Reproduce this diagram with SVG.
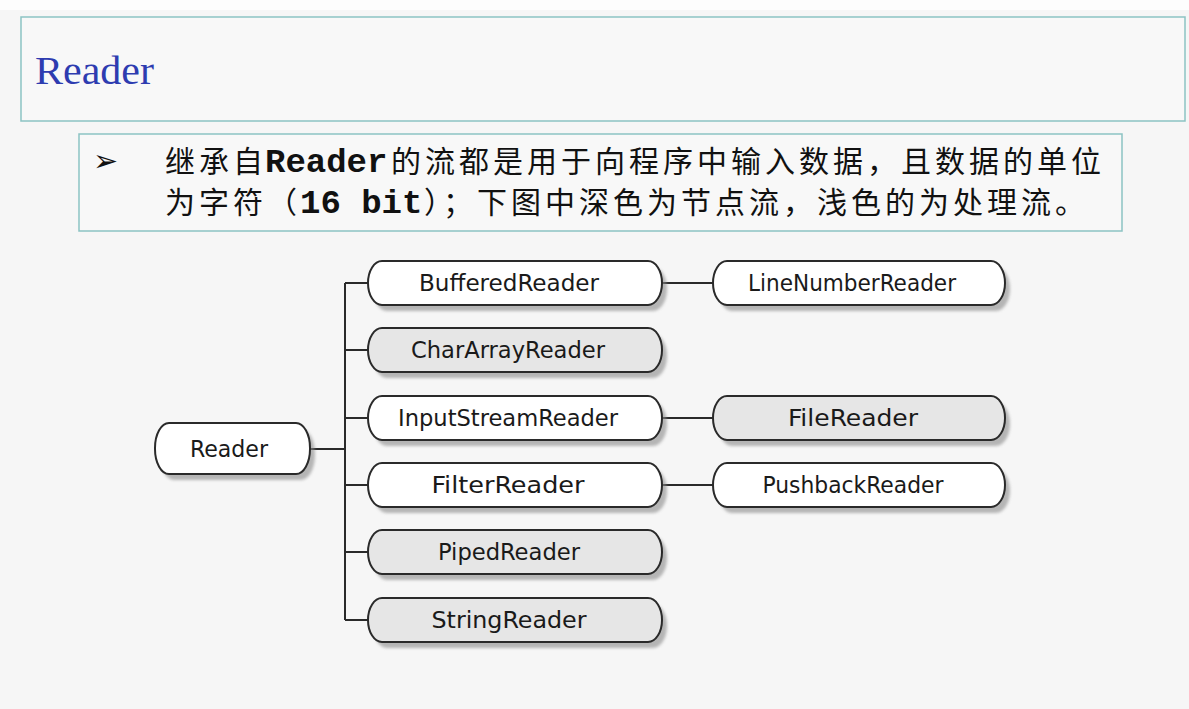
<svg xmlns="http://www.w3.org/2000/svg" width="1189" height="709" viewBox="0 0 1189 709">
<defs>
<filter id="soft" x="-10%" y="-30%" width="120%" height="160%"><feGaussianBlur stdDeviation="1.6"/></filter>
<style>
.box{fill:#f8f8f8;stroke:#8cc3c3;stroke-width:1.5}
.shadow{fill:#8a8a8a;opacity:0.6;filter:url(#soft)}
.light{fill:#ffffff;stroke:#2a2a2a;stroke-width:2}
.dark{fill:#e6e6e6;stroke:#2a2a2a;stroke-width:2}
.lbl{font-family:"DejaVu Sans","Liberation Sans",sans-serif;font-stretch:condensed;font-size:23px;fill:#1a1a1a;text-anchor:middle}
.cjk{font-family:"Noto Sans CJK SC",sans-serif;font-size:30px;letter-spacing:4px;fill:#111}
.mono{font-family:"Liberation Mono","Noto Sans CJK SC",monospace;font-weight:bold;font-size:34px;letter-spacing:0;fill:#111}
.conn{stroke:#2a2a2a;stroke-width:2;fill:none}
</style>
</defs>
<rect x="0" y="0" width="1189" height="709" fill="#f6f6f6"/>
<rect x="0" y="0" width="1189" height="10" fill="#fdfdfd"/>
<g id="title">
<rect class="box" x="21" y="17" width="1164" height="104"/>
<text x="35" y="84" font-family="Liberation Serif,'Noto Sans CJK SC',serif" font-size="40" fill="#2e3cb0" textLength="119" lengthAdjust="spacingAndGlyphs">Reader</text>
</g>
<g id="bullet">
<rect class="box" x="79" y="134" width="1043" height="97"/>
<text x="93" y="171" font-family="DejaVu Sans,sans-serif" font-size="30" fill="#111">➢</text>
<text class="cjk" x="165" y="172">继承自</text>
<text class="mono" x="265" y="172">Reader</text>
<text class="cjk" x="391" y="172">的流都是用于向程序中输入数据，且数据的单位</text>
<text class="cjk" x="165" y="213">为字符（</text>
<text class="mono" x="300" y="213">16 bit</text>
<text class="cjk" x="424" y="213">）；下图中深色为节点流，浅色的为处理流。</text>
</g>
<g id="connectors">
<path class="conn" d="M310 449 H345 M345 283 V620 M345 283 H368 M345 350 H368 M345 418 H368 M345 485 H368 M345 552 H368 M345 620 H368"/>
<path class="conn" d="M662 283 H713 M662 418 H713 M662 485 H713"/>
</g>
<g id="node-reader">
<rect class="shadow" x="160" y="429" width="155" height="51" rx="14" ry="25"/>
<rect class="light" x="155" y="423" width="155" height="51" rx="14" ry="25"/>
<text class="lbl" x="229" y="457" textLength="78" lengthAdjust="spacingAndGlyphs">Reader</text>
</g>
<g id="node-buffered">
<rect class="shadow" x="373" y="267" width="294" height="44" rx="14" ry="22"/>
<rect class="light" x="368" y="261" width="294" height="44" rx="14" ry="22"/>
<text class="lbl" x="509" y="291" textLength="180" lengthAdjust="spacingAndGlyphs">BufferedReader</text>
</g>
<g id="node-chararray">
<rect class="shadow" x="373" y="334" width="294" height="44" rx="14" ry="22"/>
<rect class="dark" x="368" y="328" width="294" height="44" rx="14" ry="22"/>
<text class="lbl" x="508" y="358" textLength="194" lengthAdjust="spacingAndGlyphs">CharArrayReader</text>
</g>
<g id="node-inputstream">
<rect class="shadow" x="373" y="402" width="294" height="44" rx="14" ry="22"/>
<rect class="light" x="368" y="396" width="294" height="44" rx="14" ry="22"/>
<text class="lbl" x="508" y="426" textLength="220" lengthAdjust="spacingAndGlyphs">InputStreamReader</text>
</g>
<g id="node-filter">
<rect class="shadow" x="373" y="469" width="294" height="44" rx="14" ry="22"/>
<rect class="light" x="368" y="463" width="294" height="44" rx="14" ry="22"/>
<text class="lbl" x="508" y="493" textLength="153" lengthAdjust="spacingAndGlyphs">FilterReader</text>
</g>
<g id="node-piped">
<rect class="shadow" x="373" y="536" width="294" height="44" rx="14" ry="22"/>
<rect class="dark" x="368" y="530" width="294" height="44" rx="14" ry="22"/>
<text class="lbl" x="509" y="560" textLength="142" lengthAdjust="spacingAndGlyphs">PipedReader</text>
</g>
<g id="node-string">
<rect class="shadow" x="373" y="604" width="294" height="44" rx="14" ry="22"/>
<rect class="dark" x="368" y="598" width="294" height="44" rx="14" ry="22"/>
<text class="lbl" x="509" y="628" textLength="155" lengthAdjust="spacingAndGlyphs">StringReader</text>
</g>
<g id="node-linenumber">
<rect class="shadow" x="718" y="267" width="292" height="44" rx="14" ry="22"/>
<rect class="light" x="713" y="261" width="292" height="44" rx="14" ry="22"/>
<text class="lbl" x="852" y="291" textLength="208" lengthAdjust="spacingAndGlyphs">LineNumberReader</text>
</g>
<g id="node-file">
<rect class="shadow" x="718" y="402" width="292" height="44" rx="14" ry="22"/>
<rect class="dark" x="713" y="396" width="292" height="44" rx="14" ry="22"/>
<text class="lbl" x="853" y="426" textLength="130" lengthAdjust="spacingAndGlyphs">FileReader</text>
</g>
<g id="node-pushback">
<rect class="shadow" x="718" y="469" width="292" height="44" rx="14" ry="22"/>
<rect class="light" x="713" y="463" width="292" height="44" rx="14" ry="22"/>
<text class="lbl" x="853" y="493" textLength="181" lengthAdjust="spacingAndGlyphs">PushbackReader</text>
</g>
</svg>
